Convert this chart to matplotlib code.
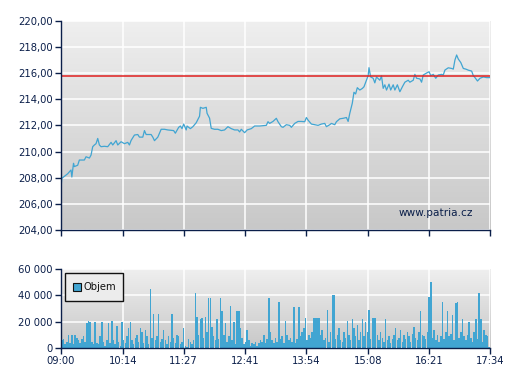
#
# patria.cz style intraday chart: price line + volume bars
#

import numpy as np
import matplotlib
matplotlib.use('Agg')
import matplotlib.pyplot as plt
from matplotlib.colors import LinearSegmentedColormap
from matplotlib.patches import Rectangle

# time axis (minutes from 09:00)
tick_min = [0, 74, 147, 221, 294, 368, 441, 514]
tick_lbl = ['09:00', '10:14', '11:27', '12:41', '13:54', '15:08', '16:21', '17:34']

# price
price_t = [0, 1, 4, 8, 12, 13, 15, 16, 20, 22, 28, 30, 34, 36, 38, 40, 42, 44, 46, 48,
           52, 56, 60, 62, 66, 68, 72, 76, 80, 82, 84, 88, 92, 94, 98, 100, 102, 108, 110, 112,
           116, 120, 124, 128, 135, 137, 141, 143, 145, 147, 150, 151, 155, 158, 162, 166, 167, 170, 174, 175,
           178, 180, 184, 188, 192, 196, 200, 204, 208, 212, 214, 216, 220, 223, 228, 232, 238, 246, 248, 250,
           254, 258, 260, 264, 266, 270, 274, 276, 280, 284, 288, 292, 294, 296, 300, 304, 308, 312, 316, 318,
           322, 324, 328, 330, 334, 338, 342, 344, 346, 349, 351, 353, 355, 358, 361, 363, 366, 368, 369, 371,
           374, 376, 378, 382, 384, 386, 388, 390, 393, 395, 398, 400, 403, 406, 409, 412, 416, 418, 422, 424,
           426, 430, 432, 434, 438, 441, 443, 446, 449, 452, 456, 458, 460, 464, 468, 470, 472, 474, 476, 479,
           482, 485, 488, 492, 494, 496, 499, 502, 506, 510, 514]
price = [207.19, 207.95, 208.1, 208.3, 208.59, 208.05, 209.1, 208.85, 208.95, 209.35,
         209.35, 209.6, 209.5, 209.73, 210.37, 210.5, 210.6, 211.0, 210.5, 210.37,
         210.4, 210.37, 210.7, 210.5, 210.83, 210.5, 210.75, 210.6, 210.7, 210.5,
         210.85, 211.26, 211.3, 211.1, 211.1, 211.6, 211.3, 211.3, 211.1, 210.83,
         211.1, 211.7, 211.7, 211.65, 211.6, 211.4, 211.85, 211.95, 211.75, 212.1,
         211.65, 211.95, 211.75, 211.9, 212.2, 212.7, 213.38, 213.3, 213.38, 212.92,
         212.55, 211.77, 211.7, 211.7, 211.6, 211.65, 211.9, 211.75, 211.65, 211.65,
         211.5, 211.7, 211.44, 211.65, 211.75, 211.95, 211.95, 212.0, 212.28, 212.15,
         212.3, 212.54, 212.28, 211.9, 211.85, 212.05, 212.0, 211.85, 212.15, 212.3,
         212.3, 212.28, 212.6, 212.4, 212.1, 212.05, 212.0, 212.1, 212.15, 211.9,
         212.05, 212.15, 212.05, 212.28, 212.5, 212.54, 212.6, 212.3, 212.92, 213.69,
         214.53, 214.4, 214.88, 214.7, 214.82, 214.95, 215.47, 215.8, 216.41, 215.7,
         215.6, 215.25, 215.7, 215.45, 215.78, 214.83, 215.1, 214.7, 215.15, 214.7,
         215.1, 214.7, 215.1, 214.57, 214.95, 215.3, 215.45, 215.3, 215.45, 215.9,
         215.6, 215.55, 215.3, 215.85, 216.0, 216.1, 215.8, 215.9, 215.6, 215.85,
         215.9, 215.85, 216.23, 216.4, 216.35, 216.3, 217.0, 217.38, 217.07, 216.8,
         216.35, 216.3, 216.22, 216.15, 215.8, 215.65, 215.39, 215.6, 215.7, 215.65,
         215.65]
prev_close = 215.75

# volume (thousands of shares, one bar per 2 minutes)
vol_k = [6, 7, 3, 5, 10, 4, 10, 3, 10, 8, 6, 4, 7, 9, 5, 19, 21, 20, 5, 3,
         20, 4, 3, 9, 20, 5, 2, 6, 19, 4, 21, 6, 3, 17, 5, 2, 20, 6, 4, 9,
         15, 20, 6, 3, 8, 10, 5, 15, 12, 4, 14, 9, 3, 45, 8, 26, 6, 9, 26, 5,
         7, 14, 6, 3, 9, 5, 26, 8, 4, 10, 9, 3, 5, 15, 2, 1, 7, 5, 3, 6,
         42, 24, 10, 22, 23, 8, 24, 12, 38, 38, 16, 9, 6, 22, 7, 38, 28, 10, 19, 5,
         9, 32, 6, 20, 3, 28, 28, 15, 8, 3, 5, 14, 6, 2, 4, 3, 5, 2, 4, 6,
         5, 10, 4, 7, 38, 12, 6, 4, 8, 5, 35, 7, 9, 4, 21, 10, 6, 8, 5, 31,
         4, 7, 31, 9, 12, 15, 23, 6, 10, 8, 12, 23, 23, 23, 23, 10, 14, 6, 8, 29,
         5, 12, 40, 40, 7, 10, 15, 6, 5, 12, 8, 21, 10, 6, 22, 15, 9, 18, 6, 12,
         22, 9, 20, 12, 29, 7, 23, 23, 23, 10, 6, 12, 8, 5, 22, 6, 9, 4, 7, 10,
         15, 6, 8, 14, 5, 10, 7, 12, 9, 5, 11, 16, 8, 6, 12, 28, 10, 9, 7, 12,
         39, 50, 8, 14, 6, 10, 5, 9, 35, 7, 12, 28, 9, 11, 25, 6, 34, 35, 8, 12,
         22, 9, 6, 10, 20, 8, 5, 12, 22, 7, 42, 22, 5, 14, 10, 9, 1]

BLUE = '#41a5d2'
NAVY = '#0b1f4a'
plt.rcParams['font.family'] = ['DejaVu Sans']
plt.rcParams['font.size'] = 7.2

grad = LinearSegmentedColormap.from_list('bg', ['#c8c8c8', '#efefef'])


def style_ax(ax, ylim, yticks, ylabels, xlabels):
    ax.imshow(np.linspace(0, 1, 100).reshape(-1, 1), cmap=grad, origin='lower',
              extent=[0, 514, ylim[0], ylim[1]], aspect='auto', zorder=0)
    ax.set_xlim(0, 514)
    ax.set_ylim(*ylim)
    ax.set_xticks(tick_min)
    ax.set_xticklabels(tick_lbl if xlabels else [])
    ax.set_yticks(yticks)
    ax.set_yticklabels(ylabels)
    ax.grid(True, color='white', lw=1.1, zorder=1)
    for s in ['top', 'right']:
        ax.spines[s].set_visible(False)
    for s in ['left', 'bottom']:
        ax.spines[s].set_color(NAVY)
        ax.spines[s].set_linewidth(1.0)
        ax.spines[s].set_zorder(5)
    ax.tick_params(direction='out', length=4, width=1, colors=NAVY, labelcolor=NAVY, pad=2)


fig = plt.figure(figsize=(5.07, 3.80), dpi=100, facecolor='white')

# price panel
ax1 = fig.add_axes([0.1203, 0.3947, 0.8462, 0.5508])
pt = [204, 206, 208, 210, 212, 214, 216, 218, 220]
style_ax(ax1, (204, 220), pt, ['{:.2f}'.format(v).replace('.', ',') for v in pt], False)
ax1.plot(price_t, price, color=BLUE, lw=0.9, zorder=3)
ax1.axhline(prev_close, color='#e02020', lw=1.1, zorder=4)
ax1.text(0.96, 0.08, 'www.patria.cz', transform=ax1.transAxes, ha='right', va='center',
         color=NAVY, fontsize=7.6, zorder=6)

# volume panel
ax2 = fig.add_axes([0.1203, 0.0834, 0.8462, 0.2087])
vt = [0, 20000, 40000, 60000]
style_ax(ax2, (0, 60000), vt, ['{:,}'.format(v).replace(',', ' ') for v in vt], True)
vol = [v * 1000 for v in vol_k]
vx = np.arange(len(vol)) * 2 + 1
ax2.bar(vx, vol, width=1.8, color=BLUE, lw=0, zorder=3, label='Objem')
ax2.tick_params(axis='x', pad=1.5)

# legend box
box = Rectangle((0.01, 0.60), 0.135, 0.35, transform=ax2.transAxes, facecolor='#ececec',
                edgecolor='#111111', lw=1.0, zorder=6)
ax2.add_patch(box)
sq = Rectangle((0.028, 0.72), 0.018, 0.10, transform=ax2.transAxes, facecolor=BLUE,
               edgecolor='#111111', lw=0.8, zorder=7)
ax2.add_patch(sq)
ax2.text(0.053, 0.775, 'Objem', transform=ax2.transAxes, ha='left', va='center',
         color='#111111', fontsize=7.2, zorder=7)

fig.savefig('out.png', dpi=100)
